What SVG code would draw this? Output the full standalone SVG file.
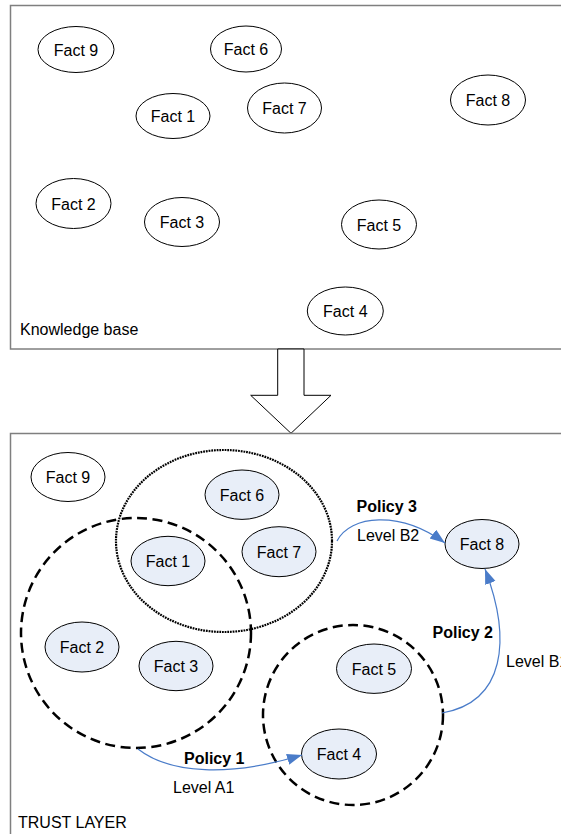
<svg xmlns="http://www.w3.org/2000/svg" width="561" height="834" viewBox="0 0 561 834">
<defs>
<style>
.box{fill:#fff;stroke:#7f7f7f;stroke-width:1.5}
.f{stroke:#000;stroke-width:1}
.w{fill:#fff}
.b{fill:#e8eef8}
text{font-family:"Liberation Sans",Arial,sans-serif;font-size:16px;fill:#000}
.fl{text-anchor:middle}
.bold{font-weight:bold}
.dash{fill:none;stroke:#000;stroke-width:2.5;stroke-dasharray:10 5.5}
.dot{fill:none;stroke:#000;stroke-width:2.2;stroke-dasharray:1.8 0.9}
.con{fill:none;stroke:#4a7cc9;stroke-width:1.2;marker-end:url(#ah)}
</style>
<marker id="ah" markerUnits="userSpaceOnUse" markerWidth="16" markerHeight="12" refX="15" refY="5.5" orient="auto">
<path d="M0,0 L15,5.5 L0,11 z" fill="#4a7cc9"/>
</marker>
</defs>
<g id="knowledge-base">
<rect class="box" x="10.5" y="5.5" width="560" height="343.5"/>
<text x="20" y="335">Knowledge base</text>
</g>
<g id="kb-fact9"><ellipse class="f w" cx="76" cy="49.5" rx="38" ry="23"/><text class="fl" x="76" y="55.5">Fact 9</text></g>
<g id="kb-fact6"><ellipse class="f w" cx="246" cy="49" rx="35.5" ry="23"/><text class="fl" x="246" y="55">Fact 6</text></g>
<g id="kb-fact1"><ellipse class="f w" cx="173" cy="116" rx="37" ry="22.5"/><text class="fl" x="173" y="122">Fact 1</text></g>
<g id="kb-fact7"><ellipse class="f w" cx="284.5" cy="108" rx="37" ry="25"/><text class="fl" x="284.5" y="114">Fact 7</text></g>
<g id="kb-fact8"><ellipse class="f w" cx="488" cy="100" rx="37.5" ry="25"/><text class="fl" x="488" y="106">Fact 8</text></g>
<g id="kb-fact2"><ellipse class="f w" cx="73.5" cy="203.5" rx="37.5" ry="25"/><text class="fl" x="73.5" y="209.5">Fact 2</text></g>
<g id="kb-fact3"><ellipse class="f w" cx="182" cy="222" rx="37.5" ry="24.5"/><text class="fl" x="182" y="228">Fact 3</text></g>
<g id="kb-fact5"><ellipse class="f w" cx="379" cy="224.5" rx="37.5" ry="24.5"/><text class="fl" x="379" y="230.5">Fact 5</text></g>
<g id="kb-fact4"><ellipse class="f w" cx="345.3" cy="311" rx="38" ry="24"/><text class="fl" x="345.3" y="317">Fact 4</text></g>
<g id="transform-arrow">
<polygon points="277.7,349 304,349 304,395.3 331,395.3 291,433.3 250.7,395.3 277.7,395.3" fill="#fff" stroke="#000" stroke-width="1"/>
</g>
<g id="trust-layer">
<rect class="box" x="10.5" y="433.5" width="560" height="420"/>
<text x="18" y="828">TRUST LAYER</text>
</g>
<g id="group-dotted"><ellipse class="dot" cx="224" cy="541" rx="108" ry="91"/></g>
<g id="group-dashed-1"><circle class="dash" cx="136" cy="633" r="115"/></g>
<g id="group-dashed-2"><circle class="dash" cx="353" cy="715" r="90"/></g>
<g id="tl-fact9"><ellipse class="f w" cx="68" cy="477" rx="37" ry="24.5"/><text class="fl" x="68" y="483">Fact 9</text></g>
<g id="tl-fact6"><ellipse class="f b" cx="242" cy="494.7" rx="37" ry="24.7"/><text class="fl" x="242" y="500.7">Fact 6</text></g>
<g id="tl-fact1"><ellipse class="f b" cx="168" cy="561" rx="37" ry="24.7"/><text class="fl" x="168" y="567">Fact 1</text></g>
<g id="tl-fact7"><ellipse class="f b" cx="279" cy="551.7" rx="37" ry="25"/><text class="fl" x="279" y="557.7">Fact 7</text></g>
<g id="tl-fact8"><ellipse class="f b" cx="482" cy="544" rx="37" ry="24.5"/><text class="fl" x="482" y="550">Fact 8</text></g>
<g id="tl-fact2"><ellipse class="f b" cx="82" cy="647" rx="37" ry="25"/><text class="fl" x="82" y="653">Fact 2</text></g>
<g id="tl-fact3"><ellipse class="f b" cx="176" cy="666" rx="37" ry="24.7"/><text class="fl" x="176" y="672">Fact 3</text></g>
<g id="tl-fact5"><ellipse class="f b" cx="374" cy="668.7" rx="37.5" ry="24.7"/><text class="fl" x="374" y="674.7">Fact 5</text></g>
<g id="tl-fact4"><ellipse class="f b" cx="339" cy="754" rx="37.5" ry="25"/><text class="fl" x="339" y="760">Fact 4</text></g>
<g id="connectors">
<path class="con" d="M337,541 C350,515 400,510 445,543"/>
<path class="con" d="M442,713 C505,702 512,640 485,569"/>
<path class="con" d="M138,749 C170,774 230,777 302,755"/>
</g>
<g id="labels">
<text class="bold" x="356.5" y="511.5">Policy 3</text>
<text x="357" y="541">Level B2</text>
<text class="bold" x="432.5" y="638">Policy 2</text>
<text x="506" y="667">Level B1</text>
<text class="bold" x="184" y="764">Policy 1</text>
<text x="173" y="793">Level A1</text>
</g>
</svg>
